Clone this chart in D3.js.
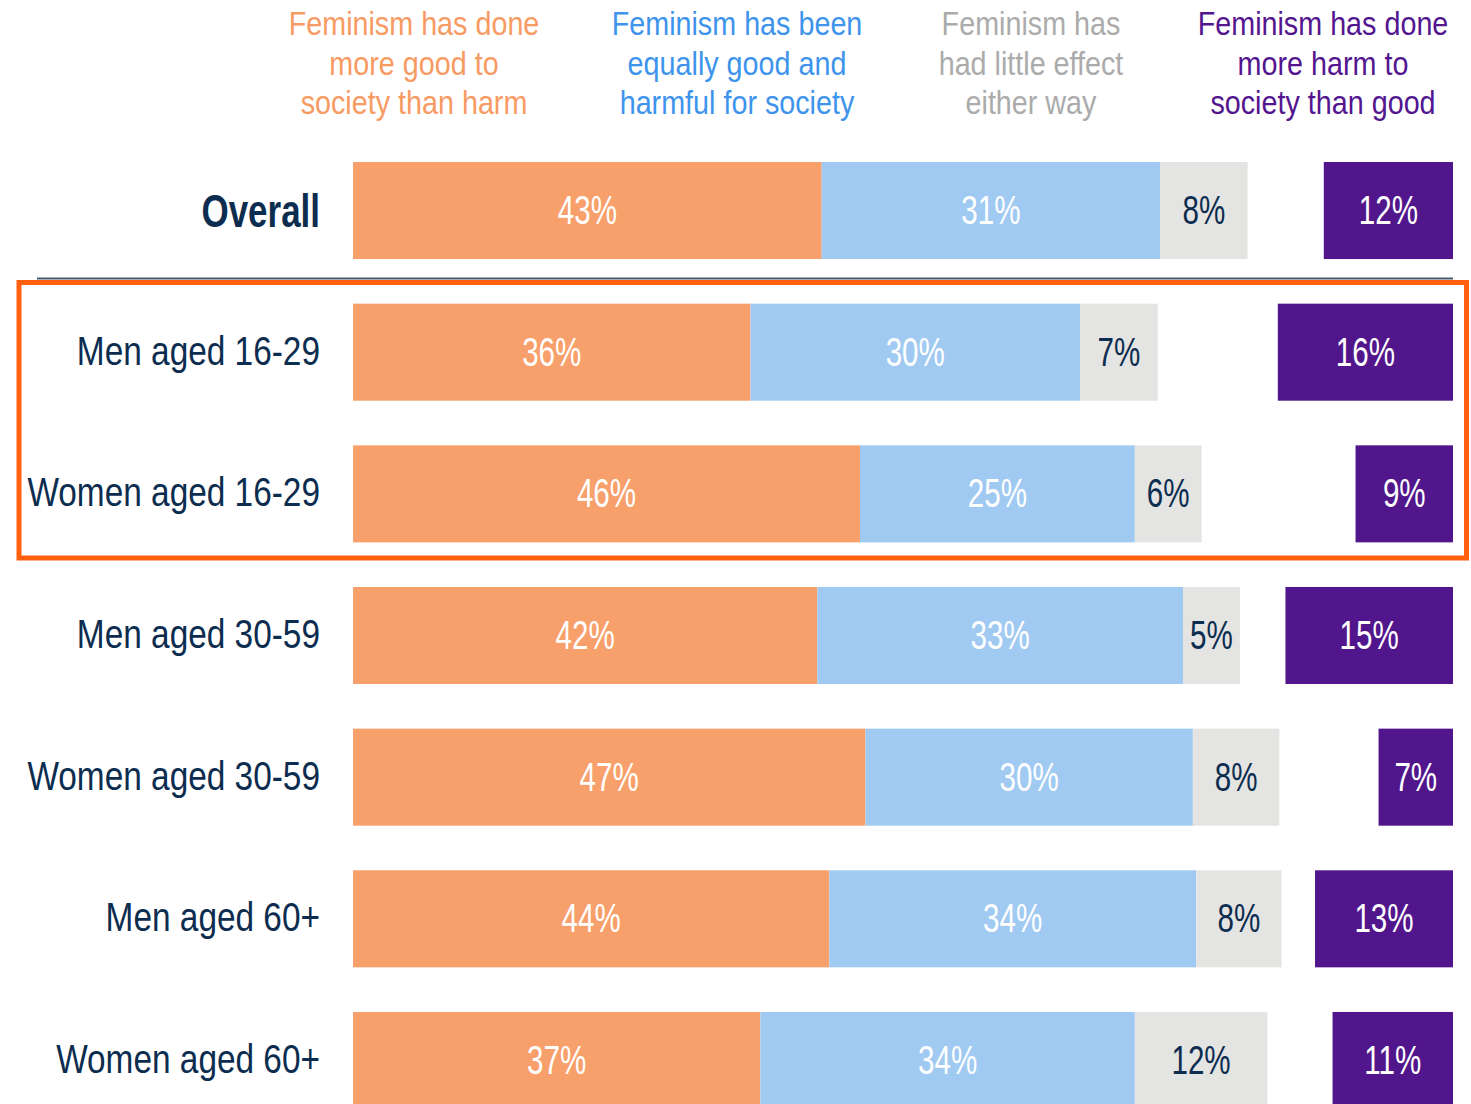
<!DOCTYPE html>
<html>
<head>
<meta charset="utf-8">
<script src="https://cdn.jsdelivr.net/npm/d3@7"></script>
<style>
  body { margin: 0; background: #fff; }
  svg text { font-family: "Liberation Sans", Arial, sans-serif; }
</style>
</head>
<body>
<div id="chart"></div>
<script>
// Groups, top to bottom
const groups = ["Overall", "Men aged 16-29", "Women aged 16-29", "Men aged 30-59",
                "Women aged 30-59", "Men aged 60+", "Women aged 60+"];

// Share of each group (%)
const moreGood   = [42.8, 36.3, 46.3, 42.4, 46.8, 43.5, 37.2];
const equally    = [30.9, 30.1, 25.1, 33.4, 29.9, 33.5, 34.2];
const littleEff  = [8.0, 7.1, 6.1, 5.2, 7.9, 7.8, 12.1];
const moreHarm   = [11.8, 16.0, 8.9, 15.3, 6.8, 12.6, 11.0];

const headers = [
    ["Feminism has done", "more good to", "society than harm"],
    ["Feminism has been", "equally good and", "harmful for society"],
    ["Feminism has", "had little effect", "either way"],
    ["Feminism has done", "more harm to", "society than good"]
];

const barColors = ["#F8A06B", "#A1CAF2", "#E4E4E3", "#52168C"];
const headColors = ["#F79B63", "#3E94EC", "#ABABAB", "#53168F"];
const labelColors = ["#fff", "#fff", "#0C2D4F", "#fff"];
const navy = "#0C2D4F";

const width = 1471, height = 1104;
const barLeft = 353, barRight = 1453;

const svg = d3.select("#chart").append("svg")
    .attr("width", width)
    .attr("height", height);

const x = d3.scaleLinear().domain([0, 100]).range([0, 1095]);
const y = d3.scaleBand().domain(groups).range([162, 1109]).paddingInner(0.315).paddingOuter(0);

// narrow text: no condensed font installed, so squeeze it horizontally
function narrowText(g, tx, ty, sx) {
    return g.append("text")
        .attr("transform", `translate(${tx},${ty}) scale(${sx},1)`);
}

// Column headers
const headX = [414, 737, 1031, 1323];
headers.forEach((lines, i) => {
    lines.forEach((l, j) => {
        narrowText(svg, headX[i], 35 + j * 39.5, 0.845)
            .attr("text-anchor", "middle")
            .attr("fill", headColors[i])
            .attr("font-size", "34px")
            .text(l);
    });
});

// Build segments
const rows = groups.map((g, i) => {
    const stack = [moreGood[i], equally[i], littleEff[i]];
    let acc = 0;
    const segs = stack.map((v, k) => {
        const s = { group: g, k: k, v: v, x0: barLeft + x(acc), w: x(v) };
        acc += v;
        return s;
    });
    segs.push({ group: g, k: 3, v: moreHarm[i], x0: barRight - x(moreHarm[i]), w: x(moreHarm[i]) });
    return segs;
});
const segs = rows.flat();

svg.append("g").selectAll("rect")
    .data(segs)
    .enter().append("rect")
    .attr("x", d => d.x0)
    .attr("y", d => y(d.group))
    .attr("width", d => d.w)
    .attr("height", y.bandwidth())
    .attr("fill", d => barColors[d.k]);

const valG = svg.append("g");
segs.forEach(d => {
    narrowText(valG, d.x0 + d.w / 2, y(d.group) + y.bandwidth() / 2 - 1, 0.74)
        .attr("dy", "0.36em")
        .attr("text-anchor", "middle")
        .attr("font-size", "40px")
        .attr("fill", labelColors[d.k])
        .text(Math.round(d.v) + "%");
});

// Group labels
const labG = svg.append("g");
groups.forEach(g => {
    const isAll = g === "Overall";
    narrowText(labG, 320, y(g) + y.bandwidth() / 2 - (isAll ? 0 : 2), isAll ? 0.76 : 0.835)
        .attr("dy", "0.36em")
        .attr("text-anchor", "end")
        .attr("fill", navy)
        .attr("font-size", isAll ? "46px" : "40px")
        .attr("font-weight", isAll ? "bold" : "normal")
        .text(g);
});

// Separator under Overall
svg.append("line")
    .attr("x1", 37).attr("x2", barRight)
    .attr("y1", 278.5).attr("y2", 278.5)
    .attr("stroke", "#4B5A6C")
    .attr("stroke-width", 2);

// Highlight box round the 16-29 rows
svg.append("rect")
    .attr("x", 19).attr("y", 282.5)
    .attr("width", 1447.5).attr("height", 275.5)
    .attr("fill", "none")
    .attr("stroke", "#FF6010")
    .attr("stroke-width", 5);
</script>
</body>
</html>
